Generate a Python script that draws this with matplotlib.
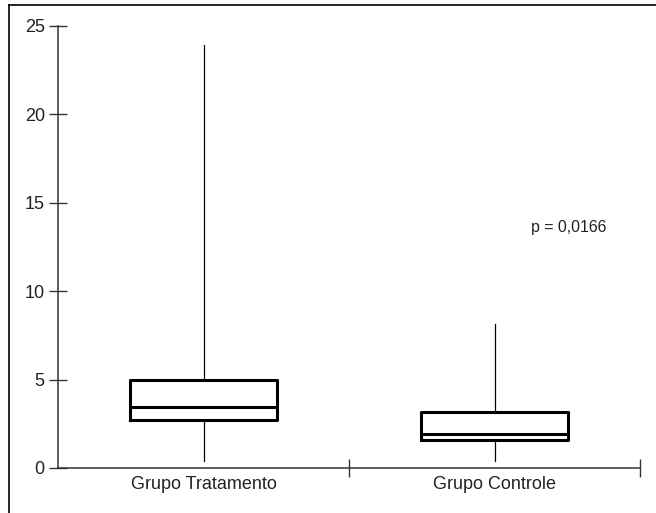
import matplotlib
matplotlib.use("Agg")
import matplotlib.pyplot as plt
from matplotlib.lines import Line2D

groups = ["Grupo Tratamento", "Grupo Controle"]
whisker_low = [0.4, 0.38]
q1 = [2.72, 1.58]
median = [3.46, 1.92]
q3 = [5.0, 3.17]
whisker_high = [23.9, 8.15]
p_text = "p = 0,0166"
y_ticks = [0, 5, 10, 15, 20, 25]

plt.rcParams["font.family"] = ["Liberation Sans", "DejaVu Sans"]

fig = plt.figure(figsize=(6.56, 5.13), dpi=100)
ax = fig.add_axes([58 / 656, 1 - 468 / 513, (640 - 58) / 656, (468 - 26) / 513])

stats = []
for i in range(len(groups)):
    stats.append({
        "whislo": whisker_low[i], "q1": q1[i], "med": median[i],
        "q3": q3[i], "whishi": whisker_high[i], "fliers": [],
    })

ax.bxp(stats, positions=[1, 2], widths=0.505, showcaps=False, showfliers=False,
       boxprops=dict(color="black", linewidth=2.2),
       medianprops=dict(color="black", linewidth=2.2),
       whiskerprops=dict(color="black", linewidth=0.9),
       manage_ticks=False)

ax.set_xlim(0.5, 2.5)
ax.set_ylim(0, 25)

ax.spines["top"].set_visible(False)
ax.spines["right"].set_visible(False)
for side in ["left", "bottom"]:
    ax.spines[side].set_color("#333333")
    ax.spines[side].set_linewidth(1.1)

ax.set_yticks(y_ticks)
ax.tick_params(axis="y", direction="inout", length=13, width=1.0, color="#333333",
               pad=3, labelsize=13, labelcolor="#222222")

ax.set_xticks([1.5, 2.5])
ax.set_xticklabels([])
ax.set_xticks([1, 2], minor=True)
ax.set_xticklabels(groups, minor=True)
ax.tick_params(axis="x", which="major", direction="inout", length=13, width=1.0, color="#333333")
ax.tick_params(axis="x", which="minor", length=0, pad=6, labelsize=13, labelcolor="#222222")

ax.text(2.256, 13.6, p_text, ha="center", va="center", fontsize=11.4, color="#222222")

# outer frame
fig.add_artist(Line2D([9 / 656, 1], [1 - 5 / 513, 1 - 5 / 513], color="black", linewidth=1.2))
fig.add_artist(Line2D([9 / 656, 9 / 656], [0, 1 - 5 / 513], color="black", linewidth=1.2))

fig.savefig("out.png", dpi=100)
